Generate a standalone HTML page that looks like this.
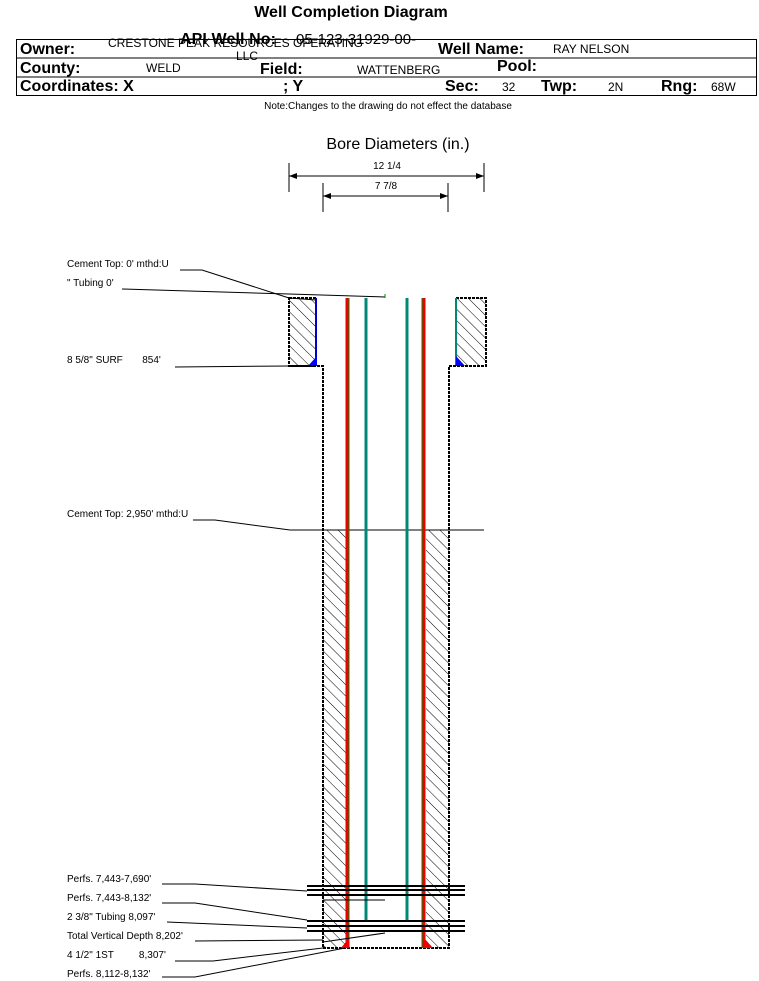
<!DOCTYPE html>
<html><head><meta charset="utf-8"><style>
body{margin:0;background:#fff;}
svg{display:block;font-family:"Liberation Sans",Arial,sans-serif;}
.b{font-weight:bold;font-size:16px;}
.n{font-size:12px;}
.s{font-size:10px;}
</style></head><body>
<svg width="759" height="981" viewBox="0 0 759 981" xmlns="http://www.w3.org/2000/svg">
<defs>
<pattern id="h" width="8" height="8" patternUnits="userSpaceOnUse" patternTransform="rotate(-45)">
<line x1="0" y1="0" x2="0" y2="8" stroke="#000" stroke-width="1"/>
</pattern>
</defs>
<text x="351" y="17" text-anchor="middle" class="b">Well Completion Diagram</text>
<rect x="16.5" y="39.5" width="740" height="56" fill="none" stroke="#000"/>
<line x1="16" y1="58" x2="757" y2="58" stroke="#000"/>
<line x1="16" y1="77" x2="757" y2="77" stroke="#000"/>
<text x="180" y="44" class="b" textLength="96">API Well No:</text>
<text x="296" y="44" font-size="15">05-123-31929-00-</text>
<text x="20" y="54" class="b">Owner:</text>
<text x="108" y="47" class="n" textLength="255">CRESTONE PEAK RESOURCES OPERATING</text>
<text x="236" y="60" class="n">LLC</text>
<text x="438" y="54" class="b">Well Name:</text>
<text x="553" y="53" class="n">RAY NELSON</text>
<text x="20" y="73" class="b">County:</text>
<text x="146" y="72" class="n">WELD</text>
<text x="260" y="74" class="b">Field:</text>
<text x="357" y="74" class="n">WATTENBERG</text>
<text x="497" y="71" class="b">Pool:</text>
<text x="20" y="91" class="b">Coordinates: X</text>
<text x="283" y="91" class="b">; Y</text>
<text x="445" y="91" class="b">Sec:</text>
<text x="502" y="91" class="n">32</text>
<text x="541" y="91" class="b">Twp:</text>
<text x="608" y="91" class="n">2N</text>
<text x="661" y="91" class="b">Rng:</text>
<text x="711" y="91" class="n">68W</text>
<text x="388" y="109" text-anchor="middle" class="s">Note:Changes to the drawing do not effect the database</text>

<text x="398" y="149" text-anchor="middle" font-size="16">Bore Diameters (in.)</text>
<text x="387" y="169" text-anchor="middle" class="s">12 1/4</text>
<text x="386" y="189" text-anchor="middle" class="s">7 7/8</text>
<g stroke="#000" stroke-width="1">
<line x1="289" y1="163" x2="289" y2="192"/><line x1="484" y1="163" x2="484" y2="192"/>
<line x1="289" y1="176" x2="484" y2="176"/>
<line x1="323" y1="183" x2="323" y2="212"/><line x1="448" y1="183" x2="448" y2="212"/>
<line x1="323" y1="196" x2="448" y2="196"/>
</g>
<polygon points="289,176 297,173 297,179"/><polygon points="484,176 476,173 476,179"/>
<polygon points="323,196 331,193 331,199"/><polygon points="448,196 440,193 440,199"/>

<rect x="289" y="298" width="27" height="68" fill="url(#h)" stroke="#000" stroke-width="2" stroke-dasharray="3,1"/>
<rect x="456" y="298" width="30" height="68" fill="url(#h)" stroke="#000" stroke-width="2" stroke-dasharray="3,1"/>
<line x1="316" y1="298" x2="316" y2="366" stroke="#00c" stroke-width="2"/>
<line x1="456" y1="298" x2="456" y2="366" stroke="#087" stroke-width="2"/>
<polygon points="308,366 317,366 317,356" fill="#00f"/>
<polygon points="456,356 456,366 465,366" fill="#00f"/>
<rect x="323" y="530" width="23" height="418" fill="url(#h)"/>
<rect x="426" y="530" width="23" height="418" fill="url(#h)"/>
<path d="M289,366 H323 V948 H449 V366 H486" fill="none" stroke="#000" stroke-width="2" stroke-dasharray="3,1"/>
<line x1="290" y1="530" x2="484" y2="530" stroke="#000"/>
<line x1="347" y1="298" x2="347" y2="948" stroke="#e00" stroke-width="3"/>
<line x1="349" y1="298" x2="349" y2="948" stroke="#080" stroke-width="1"/>
<line x1="424" y1="298" x2="424" y2="948" stroke="#e00" stroke-width="3"/>
<line x1="422" y1="298" x2="422" y2="948" stroke="#080" stroke-width="1"/>
<line x1="366" y1="298" x2="366" y2="920" stroke="#087" stroke-width="3"/>
<line x1="407" y1="298" x2="407" y2="920" stroke="#087" stroke-width="3"/>
<polygon points="341,948 349,938 349,948" fill="#e00"/>
<polygon points="424,938 424,948 433,948" fill="#e00"/>
<g stroke="#000" stroke-width="2">
<line x1="307" y1="886" x2="465" y2="886"/><line x1="307" y1="890" x2="465" y2="890"/><line x1="307" y1="895" x2="465" y2="895"/>
<line x1="307" y1="921" x2="465" y2="921"/><line x1="307" y1="926" x2="465" y2="926"/><line x1="307" y1="931" x2="465" y2="931"/>
</g>
<g class="s">
<text x="67" y="267">Cement Top: 0' mthd:U</text>
<text x="67" y="286">" Tubing 0'</text>
<text x="67" y="363">8 5/8" SURF&#160;&#160;&#160;&#160;&#160;&#160;&#160;854'</text>
<text x="67" y="517">Cement Top: 2,950' mthd:U</text>
<text x="67" y="882">Perfs. 7,443-7,690'</text>
<text x="67" y="901">Perfs. 7,443-8,132'</text>
<text x="67" y="920">2 3/8" Tubing 8,097'</text>
<text x="67" y="939">Total Vertical Depth 8,202'</text>
<text x="67" y="958">4 1/2" 1ST&#160;&#160;&#160;&#160;&#160;&#160;&#160;&#160;&#160;8,307'</text>
<text x="67" y="977">Perfs. 8,112-8,132'</text>
</g>
<g stroke="#000" stroke-width="1" fill="none">
<polyline points="180,270 202,270 289,298 316,300"/>
<polyline points="122,289 289,294 385,297"/>
<line x1="385" y1="294" x2="385" y2="298" stroke="#080"/>
<line x1="175" y1="367" x2="289" y2="366"/>
<polyline points="193,520 215,520 290,530"/>
<polyline points="162,884 195,884 307,891"/>
<polyline points="162,903 195,903 307,920"/>
<polyline points="167,922 307,928"/>
<polyline points="195,941 323,940"/>
<polyline points="175,961 213,961 323,948"/>
<polyline points="162,977 195,977 345,948"/>
<line x1="323" y1="942" x2="385" y2="933"/>
<line x1="323" y1="900" x2="385" y2="900"/>
</g>
</svg>
</body></html>
